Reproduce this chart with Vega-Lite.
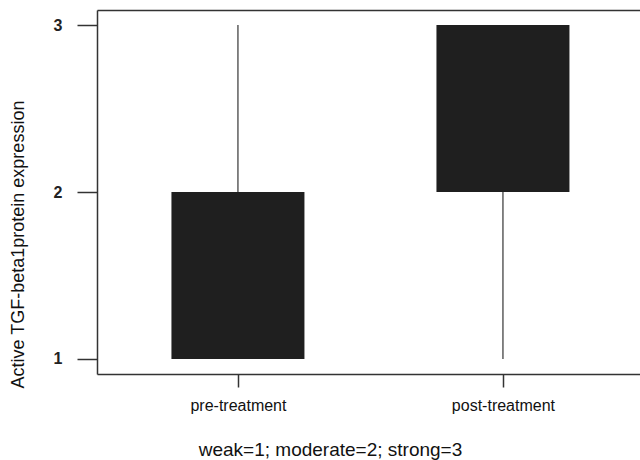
{
  "$schema": "https://vega.github.io/schema/vega-lite/v6.json",
  "width": 543,
  "height": 364,
  "autosize": {"type": "none"},
  "padding": {"left": 97, "top": 10, "right": 0, "bottom": 86},
  "background": "white",
  "config": {"view": {"stroke": null}, "font": "Liberation Sans"},
  "data": {
    "values": [
      {"group": "pre-treatment", "lower": 1, "q1": 1, "q3": 2, "upper": 3},
      {"group": "post-treatment", "lower": 1, "q1": 2, "q3": 3, "upper": 3}
    ]
  },
  "layer": [
    {
      "mark": {"type": "rule", "color": "#444444", "strokeWidth": 1.3},
      "encoding": {
        "x": {
          "field": "group",
          "type": "nominal",
          "sort": ["pre-treatment", "post-treatment"],
          "scale": {"type": "point", "padding": 0.5245, "align": 0.507},
          "axis": {
            "orient": "bottom",
            "labelAngle": 0,
            "labelFontSize": 16,
            "labelColor": "#111111",
            "labelPadding": 10,
            "tickSize": 13,
            "tickColor": "#333333",
            "tickWidth": 1.5,
            "domainColor": "#333333",
            "domainWidth": 1.5,
            "title": "weak=1; moderate=2; strong=3",
            "titleFontSize": 19,
            "titleFontWeight": "normal",
            "titleColor": "#111111",
            "titleX": 233,
            "titleY": 75,
            "titleBaseline": "middle",
            "titleAlign": "center"
          }
        },
        "y": {
          "field": "lower",
          "type": "quantitative",
          "scale": {"domain": [0.91, 3.09], "nice": false, "zero": false},
          "axis": {
            "values": [1, 2, 3],
            "grid": false,
            "labelFontSize": 16,
            "labelFontWeight": "bold",
            "labelColor": "#222222",
            "labelPadding": 15,
            "tickSize": 20,
            "tickColor": "#333333",
            "tickWidth": 1.5,
            "domainColor": "#333333",
            "domainWidth": 1.5,
            "title": "Active TGF-beta1protein expression",
            "titleFontSize": 18,
            "titleFontWeight": "normal",
            "titleColor": "#111111",
            "titleAngle": -90,
            "titleX": -79,
            "titleY": 234,
            "titleBaseline": "middle",
            "titleAlign": "center"
          }
        },
        "y2": {"field": "upper"}
      }
    },
    {
      "mark": {"type": "bar", "size": 133, "color": "#1f1f1f"},
      "encoding": {
        "x": {
          "field": "group",
          "type": "nominal",
          "sort": ["pre-treatment", "post-treatment"],
          "axis": {
            "orient": "top",
            "labels": false,
            "ticks": false,
            "title": null,
            "domainColor": "#333333",
            "domainWidth": 1.5
          }
        },
        "y": {
          "field": "q1",
          "type": "quantitative",
          "axis": {
            "values": [1, 2, 3],
            "grid": false,
            "labelFontSize": 16,
            "labelFontWeight": "bold",
            "labelColor": "#222222",
            "labelPadding": 15,
            "tickSize": 20,
            "tickColor": "#333333",
            "tickWidth": 1.5,
            "domainColor": "#333333",
            "domainWidth": 1.5,
            "title": "Active TGF-beta1protein expression",
            "titleFontSize": 18,
            "titleFontWeight": "normal",
            "titleColor": "#111111",
            "titleAngle": -90,
            "titleX": -79,
            "titleY": 234,
            "titleBaseline": "middle",
            "titleAlign": "center"
          }
        },
        "y2": {"field": "q3"}
      }
    }
  ],
  "resolve": {"axis": {"x": "independent"}}
}
